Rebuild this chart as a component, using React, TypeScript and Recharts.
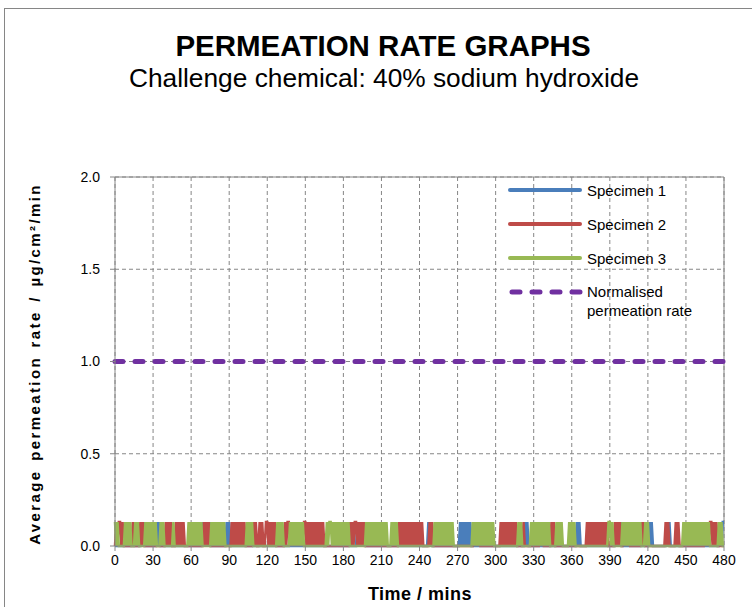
import React from 'react';
import { LineChart, Line, XAxis, YAxis, CartesianGrid, ReferenceLine } from 'recharts';

// x axis: minutes, one reading per minute
const timeTicks = [0, 30, 60, 90, 120, 150, 180, 210, 240, 270, 300, 330, 360, 390, 420, 450, 480];
const rateTicks = [0, 0.5, 1.0, 1.5, 2.0];

// readings sit either at 0 or at this level
const highRate = 0.13;
const normalisedRate = 1.0;

// one char per minute, 30 per chunk (0-29, 30-59, ...), '1' = reading at highRate
const specimen1Bits = [
  '000000000000000000000101000000',
  '000101000000000000000000000000',
  '010000000101010100000000000010',
  '100000000000000000000000000000',
  '000000000000000000000000000000',
  '000000000000000000000000000000',
  '000000000001010101000000000000',
  '000000000000000000000000000000',
  '000000010100000000000000000000',
  '001010101010000000000000000000',
  '000000000000000000010001010000',
  '000000000000000000000000000000',
  '000010100000000000000000000000',
  '000001010100000000000000000000',
  '010100000000000101000000000000',
  '000000000000000000000000000101',
  '1',
].join('');

const specimen2Bits = [
  '010110100000001000001010000000',
  '000000000010101000101010100000',
  '000000000010101000000000000000',
  '001010101010100000010100101001',
  '101010100000001011010101010101',
  '101010101010101000000000010000',
  '000001010110101010000000000000',
  '000000000000001010101010101010',
  '101000001010000000000000000000',
  '000000000000010101000000000000',
  '000010101010101010000010000000',
  '000001010000001010000000000000',
  '000000000000101010101010101010',
  '000010101001010100000000010100',
  '000000000000001010000010100000',
  '000000000000000101011010100000',
  '0',
].join('');

const specimen3Bits = [
  '101000001010100010100000101010',
  '101000101000000010000000000010',
  '101010101000000010101010101000',
  '000000000000001010100000000000',
  '000000001010100000101010101010',
  '000000000000000001011010101010',
  '101010000000000000101010101010',
  '101010001010100000000000000000',
  '000000000000101010101010101000',
  '000000000000101010101010101010',
  '000000000000000000101000000010',
  '101010101010100000101010000010',
  '101000000000000000000000000001',
  '101000000010101010101010100010',
  '100000000000000000000000000010',
  '101010101010101010100000001010',
  '0',
].join('');

const seriesNames = ['Specimen 1', 'Specimen 2', 'Specimen 3'];
const seriesColors = ['#4a7ebb', '#be4b48', '#98b954'];
const normColor = '#7030a0';

const bitVal = (s: string, i: number) => (s[i] === '1' ? highRate : 0);

const data = specimen1Bits.split('').map((_, i) => ({
  time: i,
  s1: bitVal(specimen1Bits, i),
  s2: bitVal(specimen2Bits, i),
  s3: bitVal(specimen3Bits, i),
  norm: normalisedRate,
}));

const font = '"Liberation Sans", Arial, sans-serif';
const axisGrey = '#868686';

export default function App() {
  return (
    <div style={{ position: 'absolute', left: 0, top: 0, width: 752, height: 607, background: '#fff', fontFamily: font }}>
      <LineChart width={752} height={607} data={data} margin={{ top: 177, right: 28, left: 65, bottom: 31 }}>
        <CartesianGrid stroke={axisGrey} strokeDasharray="4 3" />
        <XAxis
          dataKey="time"
          type="number"
          domain={[0, 480]}
          ticks={timeTicks}
          interval={0}
          height={30}
          tickSize={5}
          tickMargin={4}
          stroke={axisGrey}
          tick={{ fontSize: 14, fill: '#000', fontFamily: font }}
        />
        <YAxis
          type="number"
          domain={[0, 2]}
          ticks={rateTicks}
          width={50}
          tickSize={5}
          tickMargin={10}
          stroke={axisGrey}
          tickFormatter={(v: number) => v.toFixed(1)}
          tick={{ fontSize: 14, fill: '#000', fontFamily: font }}
        />
        <ReferenceLine y={2} stroke={axisGrey} />
        <ReferenceLine x={480} stroke={axisGrey} />
        <Line dataKey="s1" name={seriesNames[0]} stroke={seriesColors[0]} strokeWidth={2.5} dot={false} type="linear" isAnimationActive={false} />
        <Line dataKey="s2" name={seriesNames[1]} stroke={seriesColors[1]} strokeWidth={2.5} dot={false} type="linear" isAnimationActive={false} />
        <Line dataKey="s3" name={seriesNames[2]} stroke={seriesColors[2]} strokeWidth={2.5} dot={false} type="linear" isAnimationActive={false} />
        <Line dataKey="norm" name="Normalised permeation rate" stroke={normColor} strokeWidth={5} strokeDasharray="8 12" strokeLinecap="round" dot={false} type="linear" isAnimationActive={false} />
      </LineChart>

      <svg width={752} height={607} style={{ position: 'absolute', left: 0, top: 0, pointerEvents: 'none' }}>
        {/* chart frame, only left and top edges fall inside the picture */}
        <rect x={4.5} y={8.5} width={800} height={700} fill="none" stroke={axisGrey} />
        <text x={383} y={56} textAnchor="middle" fontFamily={font} fontWeight="bold" fontSize={29.5}>PERMEATION RATE GRAPHS</text>
        <text x={384} y={87} textAnchor="middle" fontFamily={font} fontSize={26.3}>Challenge chemical: 40% sodium hydroxide</text>

        <text x={420} y={600} textAnchor="middle" fontFamily={font} fontWeight="bold" fontSize={18} letterSpacing={0.5}>Time / mins</text>
        <text
          transform="translate(40, 364) rotate(-90)"
          textAnchor="middle"
          fontFamily={font}
          fontWeight="bold"
          fontSize={15}
          letterSpacing={2.4}
          wordSpacing={2}
        >
          Average permeation rate / µg/cm²/min
        </text>

        {seriesNames.map((n, i) => (
          <g key={n}>
            <line x1={510} x2={580} y1={190 + i * 34} y2={190 + i * 34} stroke={seriesColors[i]} strokeWidth={4} strokeLinecap="round" />
            <text x={587} y={196 + i * 34} fontFamily={font} fontSize={15}>{n}</text>
          </g>
        ))}
        <line x1={512} x2={580} y1={292} y2={292} stroke={normColor} strokeWidth={5} strokeDasharray="8 12" strokeLinecap="round" />
        <text x={587} y={297} fontFamily={font} fontSize={15}>Normalised</text>
        <text x={587} y={316} fontFamily={font} fontSize={15}>permeation rate</text>
      </svg>
    </div>
  );
}
